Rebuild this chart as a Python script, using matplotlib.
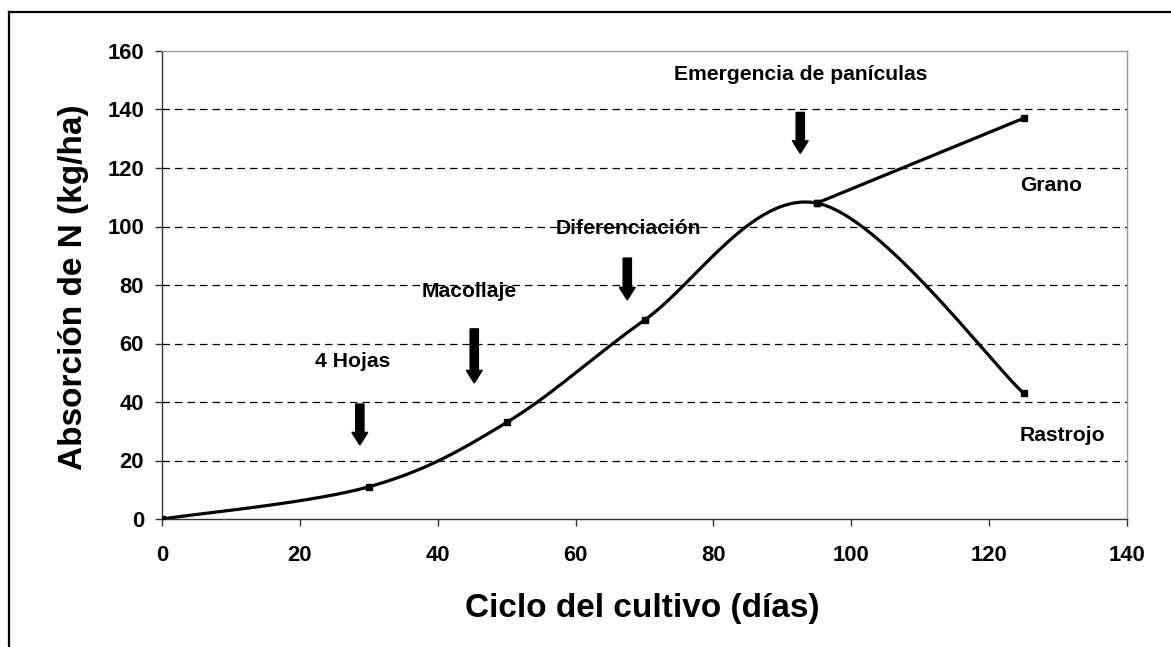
import numpy as np
import matplotlib
matplotlib.use("Agg")
import matplotlib.pyplot as plt
from matplotlib.patches import FancyArrow
from matplotlib.lines import Line2D

# ---- data ----
dias_rastrojo = [0, 30, 50, 70, 95, 125]
n_rastrojo = [0, 11, 33, 68, 108, 43]
dias_grano = [95, 125]
n_grano = [108, 137]

etapas = ["4 Hojas", "Macollaje", "Diferenciación", "Emergencia de panículas"]
etapa_x = [27.7, 44.6, 67.6, 92.7]
etapa_txt_y = [52.0, 75.9, 97.4, 150.1]
flecha_x = [28.7, 45.3, 67.5, 92.6]
flecha_top = [39.3, 65.0, 89.2, 139.0]
flecha_tip = [25.3, 46.5, 74.9, 125.0]

series_labels = ["Grano", "Rastrojo"]
series_label_x = [129.0, 130.7]
series_label_y = [112.1, 26.7]

xticks = [0, 20, 40, 60, 80, 100, 120, 140]
yticks = [0, 20, 40, 60, 80, 100, 120, 140, 160]

FONT = "Liberation Sans"


def excel_smooth(x, y, t=1.0 / 6.0, n=60):
    P = np.column_stack([x, y]).astype(float)
    m = len(P)
    out = []
    for i in range(m - 1):
        p0 = P[i - 1] if i > 0 else P[i]
        p1 = P[i]
        p2 = P[i + 1]
        p3 = P[i + 2] if i + 2 < m else P[i + 1]
        c1 = p1 + (p2 - p0) * t
        c2 = p2 - (p3 - p1) * t
        s = np.linspace(0, 1, n)[:, None]
        seg = ((1 - s) ** 3) * p1 + 3 * s * (1 - s) ** 2 * c1 + 3 * s ** 2 * (1 - s) * c2 + s ** 3 * p2
        out.append(seg if i == 0 else seg[1:])
    out = np.vstack(out)
    return out[:, 0], out[:, 1]


fig = plt.figure(figsize=(11.71, 6.47), dpi=100)
ax = fig.add_axes([162 / 1171, 1 - 519 / 647, (1127 - 162) / 1171, (519 - 51) / 647])

ax.set_xlim(0, 140)
ax.set_ylim(0, 160)

# grid
for yv in yticks[1:-1]:
    ax.axhline(yv, color="black", lw=0.9, ls=(0, (6, 4)), zorder=1)

# curves
sx, sy = excel_smooth(dias_rastrojo, n_rastrojo)
ax.plot(sx, sy, color="black", lw=2.3, zorder=3, solid_capstyle="round")
ax.plot(dias_rastrojo, n_rastrojo, ls="none", marker="s", ms=4.5, color="black", zorder=4)
ax.plot(dias_grano, n_grano, color="black", lw=2.3, marker="s", ms=4.5, zorder=3)

# arrows
for x, top, tip in zip(flecha_x, flecha_top, flecha_tip):
    ax.add_patch(FancyArrow(x, top, 0, tip - top, width=1.2, head_width=2.3,
                            head_length=4.3, length_includes_head=True,
                            color="black", zorder=5))

# stage labels
for lab, x, y in zip(etapas, etapa_x, etapa_txt_y):
    ax.text(x, y, lab, ha="center", va="baseline", fontsize=15.2,
            fontweight="bold", family=FONT, zorder=6)
for lab, x, y in zip(series_labels, series_label_x, series_label_y):
    ax.text(x, y, lab, ha="center", va="baseline", fontsize=15.2,
            fontweight="bold", family=FONT, zorder=6)

# spines
ax.spines["left"].set_color("#333333")
ax.spines["bottom"].set_color("#333333")
ax.spines["top"].set_color("#999999")
ax.spines["right"].set_color("#999999")
for s in ax.spines.values():
    s.set_linewidth(1.0)

ax.set_xticks(xticks)
ax.set_yticks(yticks)
ax.set_xticklabels([str(v) for v in xticks], fontsize=15.8, fontweight="bold", family=FONT)
ax.set_yticklabels([str(v) for v in yticks], fontsize=15.8, fontweight="bold", family=FONT)
ax.tick_params(axis="x", direction="out", length=5, width=1, color="#333333", pad=14)
ax.tick_params(axis="y", direction="out", length=5, width=1, color="#333333", pad=8)

fig.text(642 / 1171, 1 - 608 / 647, "Ciclo del cultivo (días)", ha="center", va="center",
         fontsize=24, fontweight="bold", family=FONT)
fig.text(74 / 1171, 1 - 287 / 647, "Absorción de N (kg/ha)", ha="center", va="center",
         rotation=90, fontsize=24, fontweight="bold", family=FONT)

# outer frame (left and top visible)
fig.add_artist(Line2D([9 / 1171, 9 / 1171], [0, 1 - 12 / 647], color="black", lw=1.6,
                      transform=fig.transFigure))
fig.add_artist(Line2D([9 / 1171, 1], [1 - 12 / 647, 1 - 12 / 647], color="black", lw=1.6,
                      transform=fig.transFigure))

fig.savefig("out.png", dpi=100)
